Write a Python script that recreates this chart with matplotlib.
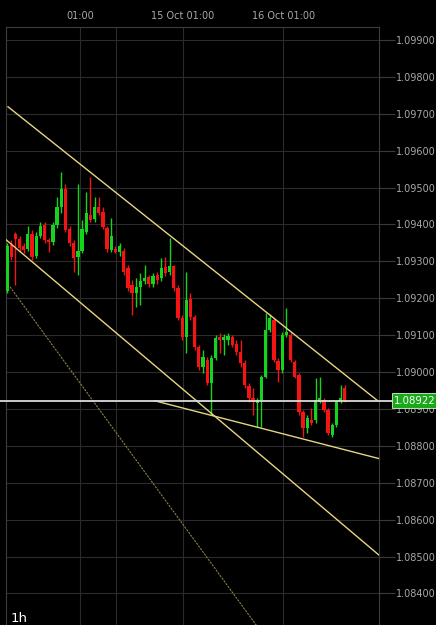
import matplotlib
matplotlib.use("Agg")
import matplotlib.pyplot as plt
from matplotlib.transforms import blended_transform_factory

# ---- data: 1h candles (open, high, low, close) ----
opens = [1.09220, 1.09344, 1.09374, 1.09361, 1.09342, 1.09334, 1.09374, 1.09315, 1.09369, 1.09399,
         1.09358, 1.09353, 1.09399, 1.09447, 1.09496, 1.09388, 1.09350, 1.09312, 1.09328, 1.09380,
         1.09426, 1.09415, 1.09447, 1.09434, 1.09391, 1.09331, 1.09334, 1.09326, 1.09328, 1.09282,
         1.09236, 1.09214, 1.09231, 1.09247, 1.09258, 1.09239, 1.09263, 1.09255, 1.09285, 1.09271,
         1.09288, 1.09228, 1.09147, 1.09095, 1.09198, 1.09149, 1.09068, 1.09014, 1.09033, 1.08971,
         1.09038, 1.09095, 1.09087, 1.09087, 1.09095, 1.09076, 1.09054, 1.09025, 1.08962, 1.08930,
         1.08916, 1.08924, 1.08987, 1.09114, 1.09141, 1.09030, 1.09006, 1.09101, 1.09101, 1.09027,
         1.08992, 1.08892, 1.08848, 1.08870, 1.08870, 1.08919, 1.08924, 1.08897, 1.08830, 1.08857,
         1.08919, 1.08957]
highs = [1.09350, 1.09358, 1.09380, 1.09369, 1.09350, 1.09396, 1.09385, 1.09380, 1.09407, 1.09407,
         1.09363, 1.09407, 1.09475, 1.09542, 1.09510, 1.09396, 1.09358, 1.09510, 1.09412, 1.09488,
         1.09529, 1.09475, 1.09475, 1.09447, 1.09396, 1.09418, 1.09342, 1.09350, 1.09336, 1.09290,
         1.09250, 1.09255, 1.09269, 1.09290, 1.09263, 1.09269, 1.09271, 1.09309, 1.09312, 1.09363,
         1.09290, 1.09236, 1.09155, 1.09271, 1.09214, 1.09155, 1.09073, 1.09060, 1.09041, 1.09046,
         1.09101, 1.09106, 1.09104, 1.09106, 1.09101, 1.09087, 1.09087, 1.09033, 1.08971, 1.08957,
         1.08930, 1.08992, 1.09160, 1.09158, 1.09147, 1.09038, 1.09109, 1.09174, 1.09109, 1.09033,
         1.08998, 1.08897, 1.08884, 1.08903, 1.08984, 1.08987, 1.08930, 1.08903, 1.08862, 1.08924,
         1.08965, 1.08965]
lows = [1.09214, 1.09304, 1.09236, 1.09326, 1.09323, 1.09328, 1.09304, 1.09309, 1.09363, 1.09350,
        1.09326, 1.09344, 1.09391, 1.09431, 1.09380, 1.09342, 1.09271, 1.09263, 1.09323, 1.09374,
        1.09407, 1.09407, 1.09426, 1.09388, 1.09326, 1.09326, 1.09323, 1.09315, 1.09263, 1.09220,
        1.09155, 1.09176, 1.09182, 1.09239, 1.09231, 1.09231, 1.09239, 1.09247, 1.09260, 1.09263,
        1.09220, 1.09141, 1.09087, 1.09052, 1.09141, 1.09060, 1.09006, 1.08998, 1.08965, 1.08884,
        1.09033, 1.09052, 1.09046, 1.09073, 1.09068, 1.09046, 1.09014, 1.08957, 1.08919, 1.08884,
        1.08851, 1.08851, 1.08984, 1.09109, 1.09027, 1.08973, 1.08998, 1.09095, 1.09027, 1.08984,
        1.08884, 1.08824, 1.08835, 1.08857, 1.08862, 1.08916, 1.08892, 1.08830, 1.08824, 1.08851,
        1.08916, 1.08919]
closes = [1.09342, 1.09312, 1.09361, 1.09336, 1.09331, 1.09374, 1.09312, 1.09369, 1.09396, 1.09358,
          1.09353, 1.09399, 1.09447, 1.09496, 1.09385, 1.09350, 1.09309, 1.09328, 1.09388, 1.09431,
          1.09412, 1.09447, 1.09431, 1.09393, 1.09334, 1.09369, 1.09326, 1.09342, 1.09271, 1.09228,
          1.09214, 1.09231, 1.09247, 1.09255, 1.09239, 1.09260, 1.09250, 1.09282, 1.09269, 1.09288,
          1.09228, 1.09147, 1.09095, 1.09195, 1.09149, 1.09068, 1.09014, 1.09041, 1.08971, 1.09038,
          1.09092, 1.09087, 1.09095, 1.09098, 1.09073, 1.09054, 1.09025, 1.08965, 1.08930, 1.08919,
          1.08924, 1.08987, 1.09114, 1.09147, 1.09033, 1.09006, 1.09101, 1.09109, 1.09033, 1.08987,
          1.08892, 1.08848, 1.08876, 1.08862, 1.08924, 1.08930, 1.08897, 1.08835, 1.08857, 1.08919,
          1.08930, 1.08922]

last_price = 1.08922
price_ticks = [1.084, 1.085, 1.086, 1.087, 1.088, 1.089, 1.090, 1.091, 1.092,
               1.093, 1.094, 1.095, 1.096, 1.097, 1.098, 1.099]
time_tick_pos = [17.5, 26.1, 42.2, 66.2]
time_tick_labels = ["01:00", "", "15 Oct 01:00", "16 Oct 01:00"]
timeframe = "1h"

# trend lines drawn on chart: ((x0, p0), (x1, p1)) in candle index / price
channel_upper = ((0.24, 1.09719), (88.7, 1.08924))
channel_lower = ((-0.48, 1.09361), (89.2, 1.08504))
support_line = ((35.5, 1.08922), (89.4, 1.08765))
faint_line = ((0.72, 1.09231), (80.0, 1.08000))

# ---- figure ----
W, H = 436, 625
fig = plt.figure(figsize=(W / 100, H / 100), dpi=100, facecolor="black")
ax = fig.add_axes([6 / W, 0, (379 - 6) / W, (625 - 27) / H])
ax.set_facecolor("black")

x = list(range(len(opens)))
green, red = "#14d41e", "#f31414"
cols = [green if c >= o else red for o, c in zip(opens, closes)]

ax.vlines(x, lows, highs, colors=cols, linewidth=1.0, zorder=3)
bottoms = [min(o, c) for o, c in zip(opens, closes)]
heights = [max(abs(c - o), 0.00002) for o, c in zip(opens, closes)]
ax.bar(x, heights, bottom=bottoms, width=0.78, color=cols, linewidth=0, zorder=4)

# trend lines
for (x0, y0), (x1, y1) in (channel_upper, channel_lower, support_line):
    ax.plot([x0, x1], [y0, y1], color="#e6d580", linewidth=1.0, zorder=5)
(x0, y0), (x1, y1) = faint_line
ax.plot([x0, x1], [y0, y1], color="#8c7f45", linewidth=0.8, linestyle=(0, (2, 1)), zorder=5)

ax.set_xlim(-0.24, 89.2)
ax.set_ylim(1.083146, 1.099352)

# grid & axes styling
ax.set_yticks(price_ticks)
ax.set_yticklabels([f"{p:.5f}" for p in price_ticks])
ax.yaxis.tick_right()
ax.set_xticks(time_tick_pos)
ax.set_xticklabels(time_tick_labels)
ax.xaxis.tick_top()
ax.grid(True, color="#2b2b2b", linewidth=0.8)
ax.set_axisbelow(True)
ax.tick_params(axis="y", which="both", length=11.5, width=0.8, color="#3a3a3a",
               labelcolor="#a9a9a9", labelsize=7, pad=1)
ax.tick_params(axis="x", which="both", length=0, labelcolor="#a9a9a9", labelsize=7, pad=4)
for side in ("left", "top", "right"):
    ax.spines[side].set_color("#3e3e3e")
    ax.spines[side].set_linewidth(0.8)
ax.spines["bottom"].set_visible(False)

# current price line and label
tr = blended_transform_factory(fig.transFigure, ax.transData)
ax.plot([0, 395 / W], [last_price, last_price], color="#dcdcdc", linewidth=1.3,
        transform=tr, clip_on=False, zorder=6)
ax.text(415 / W, last_price, f"{last_price:.5f}", transform=tr, ha="center", va="center",
        fontsize=7.3, color="white", zorder=10,
        bbox=dict(boxstyle="square,pad=0.25", facecolor="#18a818", edgecolor="#d8f0d8", linewidth=0.6))

fig.text(11 / W, 1 - 618 / H, timeframe, color="white", fontsize=9.5, ha="left", va="center")

fig.savefig("out.png", dpi=100, facecolor="black")
